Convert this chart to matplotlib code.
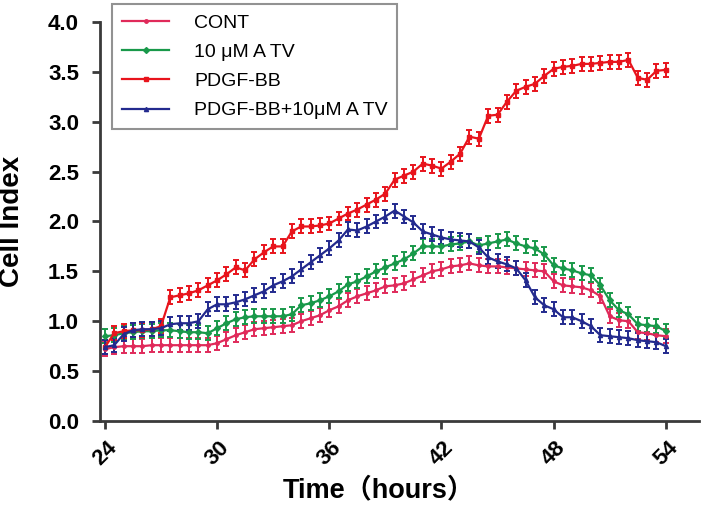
import numpy as np
import matplotlib
matplotlib.use("Agg")
import matplotlib.pyplot as plt
import matplotlib.transforms as mtransforms
from matplotlib.lines import Line2D

plt.rcParams["font.family"] = ["Liberation Sans", "Noto Sans CJK SC", "DejaVu Sans"]

# time points (hours), every 0.5 h
hours = np.arange(24, 54.01, 0.5)

cont = [0.72, 0.74, 0.75, 0.75, 0.75, 0.76, 0.76, 0.76, 0.76, 0.76, 0.76, 0.76,
        0.78, 0.82, 0.86, 0.89, 0.92, 0.93, 0.94, 0.95, 0.96, 1.00, 1.03, 1.06,
        1.11, 1.15, 1.21, 1.25, 1.28, 1.31, 1.35, 1.36, 1.38, 1.42, 1.46, 1.50,
        1.52, 1.55, 1.56, 1.58, 1.56, 1.55, 1.55, 1.54, 1.53, 1.52, 1.51, 1.50,
        1.40, 1.36, 1.35, 1.34, 1.31, 1.25, 1.05, 1.01, 1.00, 0.89, 0.88, 0.86,
        0.85]

atv = [0.85, 0.86, 0.88, 0.89, 0.90, 0.90, 0.91, 0.91, 0.90, 0.89, 0.89, 0.88,
       0.93, 0.98, 1.02, 1.04, 1.05, 1.05, 1.05, 1.05, 1.07, 1.16, 1.18, 1.21,
       1.25, 1.30, 1.37, 1.40, 1.45, 1.50, 1.54, 1.58, 1.62, 1.68, 1.75, 1.75,
       1.75, 1.77, 1.78, 1.80, 1.76, 1.78, 1.80, 1.82, 1.78, 1.75, 1.73, 1.67,
       1.56, 1.53, 1.51, 1.48, 1.46, 1.36, 1.21, 1.11, 1.07, 0.97, 0.96, 0.95,
       0.90]

pdgf = [0.74, 0.88, 0.90, 0.91, 0.91, 0.92, 0.95, 1.24, 1.26, 1.28, 1.31, 1.36,
        1.41, 1.47, 1.54, 1.51, 1.62, 1.69, 1.75, 1.75, 1.90, 1.95, 1.95, 1.96,
        1.98, 2.03, 2.08, 2.12, 2.17, 2.22, 2.28, 2.42, 2.46, 2.50, 2.58, 2.56,
        2.53, 2.60, 2.68, 2.85, 2.83, 3.06, 3.07, 3.20, 3.31, 3.35, 3.38, 3.46,
        3.53, 3.55, 3.56, 3.58, 3.58, 3.59, 3.60, 3.60, 3.62, 3.44, 3.42, 3.51,
        3.52]

pdgf_atv = [0.74, 0.76, 0.87, 0.91, 0.92, 0.92, 0.93, 0.97, 0.98, 0.98, 1.00, 1.12,
            1.17, 1.17, 1.19, 1.22, 1.26, 1.30, 1.36, 1.40, 1.45, 1.52, 1.59, 1.66,
            1.73, 1.81, 1.92, 1.91, 1.95, 2.00, 2.05, 2.11, 2.05, 1.99, 1.90, 1.87,
            1.84, 1.82, 1.81, 1.80, 1.74, 1.64, 1.60, 1.57, 1.53, 1.41, 1.24, 1.16,
            1.12, 1.04, 1.04, 1.00, 0.95, 0.86, 0.85, 0.84, 0.83, 0.81, 0.80, 0.79,
            0.75]

# error bar half-widths (SD)
err_cont = 0.07
err_atv = 0.07
err_pdgf = 0.07
err_pdgf_atv = 0.07

labels = ["CONT", "10 μM A TV", "PDGF-BB", "PDGF-BB+10μM A TV"]
x_ticks = [24, 30, 36, 42, 48, 54]
y_ticks = [0.0, 0.5, 1.0, 1.5, 2.0, 2.5, 3.0, 3.5, 4.0]

fig = plt.figure(figsize=(7.03, 5.23), dpi=100)
ax = fig.add_axes([0.142, 0.195, 0.853, 0.763])

series = [
    (cont, err_cont, "#e02a5a", "o", 2.5),
    (atv, err_atv, "#19994a", "D", 3),
    (pdgf, err_pdgf, "#e8141c", "s", 3),
    (pdgf_atv, err_pdgf_atv, "#232a8e", "^", 3),
]
handles = []
for (vals, err, col, mk, ms), lab in zip(series, labels):
    ax.errorbar(hours, vals, yerr=err, color=col, marker=mk, markersize=ms,
                linewidth=1.6, elinewidth=1.4, capsize=2.5, capthick=1.4)
    handles.append(Line2D([], [], color=col, marker=mk, markersize=ms,
                          linewidth=1.6, label=lab))

ax.set_xlim(23.73, 55.8)
ax.set_ylim(0, 4.0)
ax.set_xticks(x_ticks)
ax.set_yticks(y_ticks)
ax.set_yticklabels([f"{v:.1f}" for v in y_ticks], fontsize=16, fontweight="bold")
ax.set_xticklabels([str(v) for v in x_ticks], fontsize=16, fontweight="bold",
                   rotation=45, ha="center")
shift = mtransforms.ScaledTranslation(7 / 100, -3 / 100, fig.dpi_scale_trans)
for lbl in ax.get_xticklabels():
    lbl.set_transform(lbl.get_transform() + shift)

for side in ["top", "right"]:
    ax.spines[side].set_visible(False)
for side in ["left", "bottom"]:
    ax.spines[side].set_linewidth(2)
    ax.spines[side].set_color("#3a3a3a")
ax.tick_params(direction="out", length=6, width=2, color="#3a3a3a", pad=6)
ax.tick_params(axis="y", pad=9)

ax.set_ylabel("Cell Index", fontsize=20, fontweight="bold")
ax.set_xlabel("Time（hours）", fontsize=19.5, fontweight="bold")
ax.yaxis.set_label_coords(-0.125, 0.5)
ax.xaxis.set_label_coords(0.465, -0.14)

leg = ax.legend(handles=handles, loc="upper left", bbox_to_anchor=(0.16, 0.992),
                bbox_transform=fig.transFigure, fontsize=14, frameon=True,
                fancybox=False, handlelength=2.4, labelspacing=0.6,
                borderpad=0.5, handletextpad=1.3, borderaxespad=0)
leg.get_frame().set_edgecolor("#777777")
leg.get_frame().set_linewidth(1.5)

fig.savefig("out.png", dpi=100, facecolor="white")
